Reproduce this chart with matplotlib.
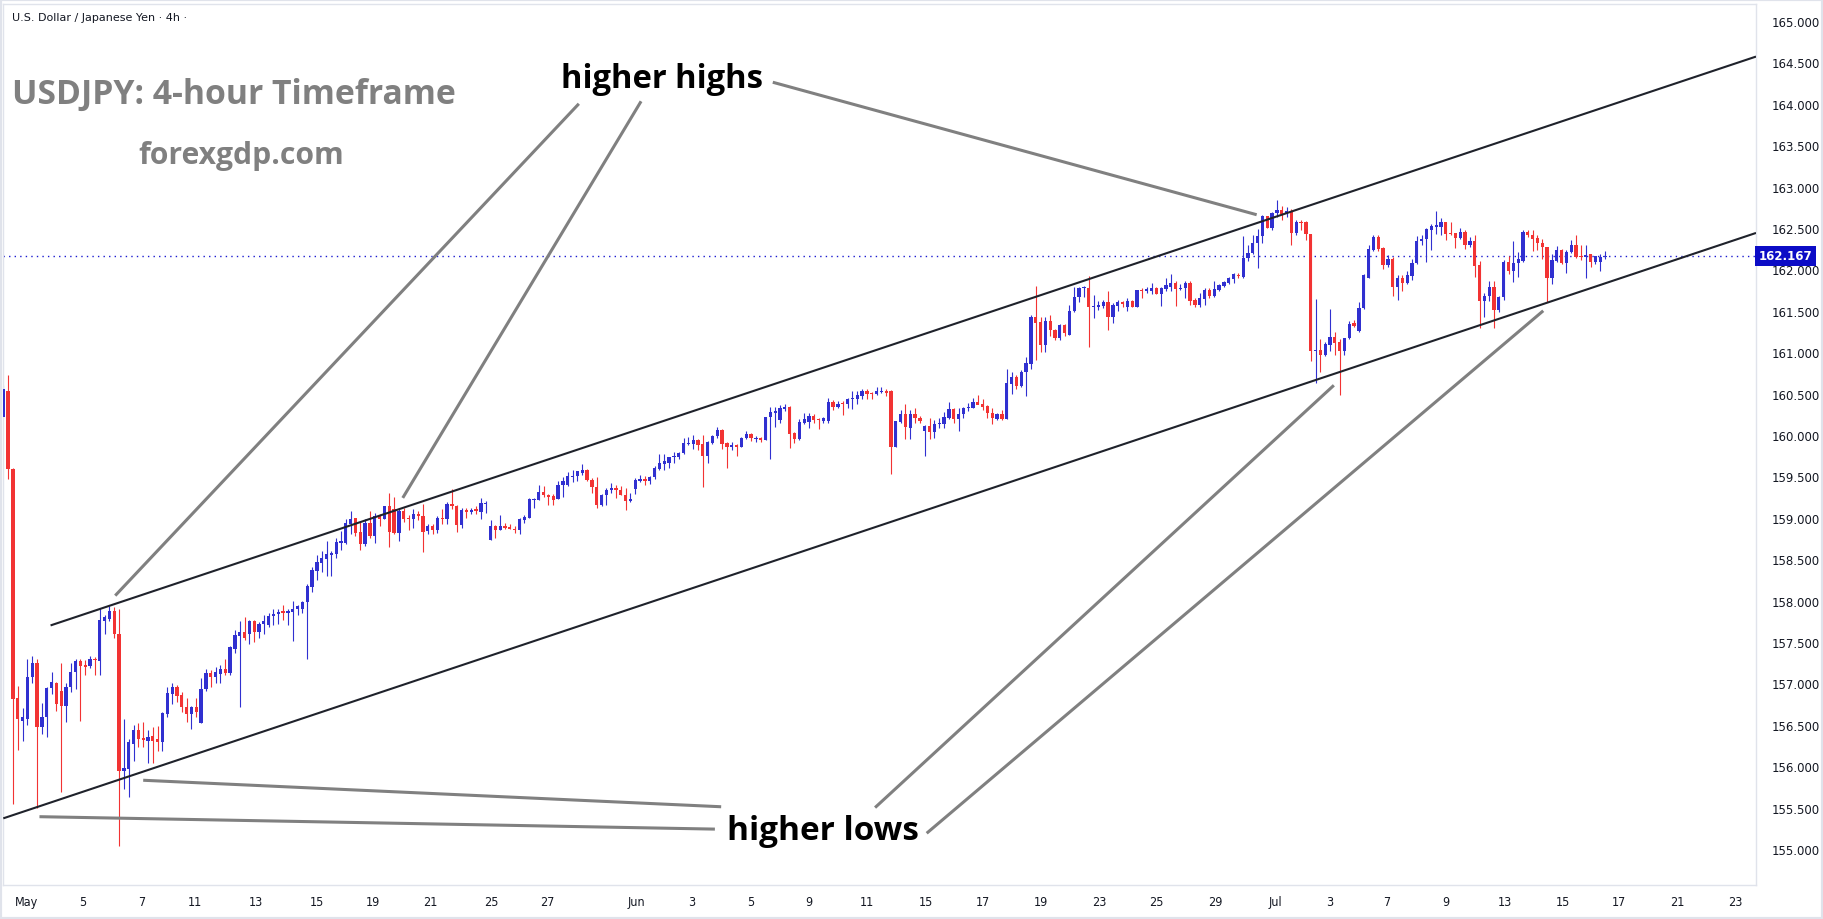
import numpy as np
import matplotlib
matplotlib.use("Agg")
import matplotlib.pyplot as plt
from matplotlib.transforms import blended_transform_factory
from matplotlib.patches import Rectangle

# 4h candles, USDJPY, one row = one trading day (6 candles)
opens = [
    160.22, 160.53, 159.59, 156.82, 156.55, 156.57,
    157.08, 157.25, 156.47, 156.60, 156.94, 157.00,
    156.91, 156.73, 156.96, 157.14, 157.27, 157.22,
    157.21, 157.30, 157.27, 157.75, 157.78, 157.87,
    157.60, 155.94, 155.97, 156.27, 156.44, 156.34,
    156.30, 156.36, 156.33, 156.29, 156.63, 156.87,
    156.96, 156.86, 156.71, 156.63, 156.72, 156.52,
    156.93, 157.13, 157.08, 157.11, 157.17, 157.13,
    157.42, 157.57, 157.62, 157.60, 157.75, 157.62,
    157.72, 157.70, 157.81, 157.84, 157.87, 157.85,
    157.86, 157.90, 157.90, 157.98, 158.16, 158.36,
    158.45, 158.50, 158.55, 158.56, 158.70, 158.70,
    158.93, 159.00, 158.83, 158.68, 158.94, 158.78,
    159.02, 158.99, 159.14, 159.10, 158.82, 159.08,
    158.99, 158.98, 159.05, 159.02, 158.84, 158.90,
    158.85, 159.00, 158.99, 159.17, 159.14, 158.91,
    159.09, 159.07, 159.10, 159.07, 159.17, 158.73,
    158.90, 158.85, 158.90, 158.89, 158.87, 158.85,
    158.97, 159.00, 159.22, 159.21, 159.31, 159.27,
    159.26, 159.23, 159.39, 159.40, 159.49, 159.51,
    159.54, 159.58, 159.46, 159.37, 159.15, 159.28,
    159.33, 159.36, 159.33, 159.28, 159.20, 159.35,
    159.45, 159.47, 159.44, 159.49, 159.59, 159.65,
    159.66, 159.73, 159.73, 159.78, 159.89, 159.89,
    159.94, 159.89, 159.75, 159.90, 159.99, 160.06,
    159.90, 159.86, 159.88, 159.86, 159.96, 160.01,
    159.95, 159.96, 159.94, 160.22, 160.27, 160.18,
    160.31, 160.34, 160.02, 159.95, 160.15, 160.16,
    160.23, 160.19, 160.17, 160.17, 160.40, 160.34,
    160.39, 160.37, 160.43, 160.43, 160.47, 160.53,
    160.51, 160.50, 160.52, 160.53, 160.53, 159.86,
    160.16, 160.25, 160.08, 160.25, 160.21, 160.05,
    160.11, 160.04, 160.13, 160.13, 160.20, 160.31,
    160.19, 160.25, 160.33, 160.33, 160.40, 160.37,
    160.35, 160.27, 160.19, 160.25, 160.19, 160.62,
    160.70, 160.59, 160.76, 160.86, 161.43, 161.36,
    161.09, 161.38, 161.27, 161.17, 161.33, 161.21,
    161.50, 161.67, 161.77, 161.78, 161.55, 161.55,
    161.56, 161.60, 161.43, 161.56, 161.60, 161.55,
    161.62, 161.55, 161.75, 161.74, 161.74, 161.78,
    161.70, 161.76, 161.79, 161.84, 161.76, 161.77,
    161.84, 161.63, 161.57, 161.64, 161.75, 161.68,
    161.75, 161.80, 161.84, 161.88, 161.93, 161.91,
    162.14, 162.20, 162.32, 162.40, 162.64, 162.50,
    162.68, 162.72, 162.67, 162.70, 162.44, 162.57,
    162.57, 162.43, 161.01, 161.03, 160.97, 161.09,
    161.18, 161.12, 161.01, 161.17, 161.35, 161.25,
    161.53, 161.90, 162.23, 162.39, 162.26, 162.05,
    162.12, 161.79, 161.90, 161.84, 161.92, 162.08,
    162.34, 162.37, 162.48, 162.51, 162.51, 162.57,
    162.44, 162.44, 162.38, 162.45, 162.30, 162.34,
    162.05, 161.62, 161.68, 161.79, 161.51, 161.67,
    162.09, 161.98, 162.08, 162.10, 162.45, 162.42,
    162.38, 162.32, 162.27, 161.90, 162.10, 162.23,
    162.08, 162.21, 162.30, 162.16, 162.15, 162.18,
    162.09, 162.09, 162.15,
]
highs = [
    160.60, 160.72, 159.60, 156.97, 156.70, 157.30,
    157.33, 157.30, 156.76, 156.96, 157.14, 157.02,
    157.25, 157.00, 157.25, 157.30, 157.30, 157.28,
    157.33, 157.32, 157.91, 157.83, 157.93, 157.92,
    157.90, 156.57, 156.33, 156.50, 156.52, 156.53,
    156.44, 156.47, 156.48, 156.66, 156.96, 157.00,
    156.98, 156.90, 156.82, 156.73, 156.82, 157.06,
    157.17, 157.16, 157.20, 157.22, 157.29, 157.45,
    157.65, 157.75, 157.80, 157.76, 157.77, 157.74,
    157.82, 157.85, 157.90, 157.90, 157.95, 157.90,
    158.00, 157.95, 158.00, 158.20, 158.40, 158.55,
    158.60, 158.72, 158.60, 158.75, 158.84, 158.98,
    159.08, 159.00, 158.95, 158.98, 159.08, 159.06,
    159.05, 159.14, 159.30, 159.25, 159.10, 159.12,
    159.03, 159.10, 159.08, 159.17, 158.93, 158.92,
    159.02, 159.10, 159.19, 159.35, 159.16, 159.12,
    159.12, 159.12, 159.14, 159.24, 159.20, 158.97,
    158.91, 159.03, 158.94, 158.92, 158.90, 159.00,
    159.03, 159.24, 159.24, 159.40, 159.38, 159.29,
    159.29, 159.45, 159.49, 159.55, 159.58, 159.57,
    159.65, 159.59, 159.48, 159.49, 159.29, 159.36,
    159.42, 159.40, 159.38, 159.36, 159.30, 159.48,
    159.52, 159.51, 159.50, 159.63, 159.77, 159.77,
    159.74, 159.80, 159.79, 159.96, 159.98, 160.00,
    159.95, 160.00, 159.93, 160.00, 160.10, 160.07,
    159.91, 159.92, 159.89, 159.97, 160.05, 160.02,
    159.99, 159.97, 160.22, 160.34, 160.34, 160.36,
    160.38, 160.35, 160.03, 160.19, 160.26, 160.27,
    160.25, 160.20, 160.22, 160.45, 160.42, 160.41,
    160.41, 160.45, 160.53, 160.53, 160.56, 160.55,
    160.52, 160.58, 160.58, 160.55, 160.54, 160.17,
    160.30, 160.37, 160.30, 160.32, 160.23, 160.12,
    160.20, 160.18, 160.20, 160.28, 160.40, 160.33,
    160.33, 160.34, 160.39, 160.45, 160.48, 160.44,
    160.36, 160.33, 160.27, 160.30, 160.80, 160.76,
    160.72, 160.78, 160.94, 161.45, 161.80, 161.42,
    161.42, 161.45, 161.28, 161.34, 161.34, 161.57,
    161.79, 161.79, 161.80, 161.92, 161.69, 161.62,
    161.63, 161.74, 161.59, 161.63, 161.62, 161.65,
    161.63, 161.75, 161.77, 161.79, 161.83, 161.79,
    161.79, 161.90, 161.94, 161.86, 161.82, 161.86,
    161.86, 161.65, 161.71, 161.77, 161.78, 161.86,
    161.82, 161.86, 161.91, 161.96, 161.96, 162.40,
    162.30, 162.42, 162.49, 162.66, 162.65, 162.69,
    162.84, 162.76, 162.75, 162.73, 162.60, 162.60,
    162.58, 162.43, 161.64, 161.16, 161.12, 161.52,
    161.24, 161.16, 161.17, 161.38, 161.39, 161.60,
    161.94, 162.30, 162.42, 162.42, 162.27, 162.17,
    162.15, 161.93, 161.93, 161.98, 162.13, 162.40,
    162.42, 162.50, 162.55, 162.71, 162.62, 162.57,
    162.57, 162.44, 162.50, 162.47, 162.39, 162.42,
    162.10, 161.72, 161.86, 161.86, 161.68, 162.11,
    162.16, 162.34, 162.21, 162.47, 162.47, 162.47,
    162.42, 162.37, 162.27, 162.19, 162.28, 162.25,
    162.24, 162.35, 162.42, 162.30, 162.30, 162.18,
    162.16, 162.18, 162.22,
]
lows = [
    160.20, 159.47, 155.54, 156.20, 156.30, 156.50,
    157.00, 155.50, 156.39, 156.35, 156.87, 156.67,
    155.69, 156.53, 156.90, 156.93, 156.55, 157.10,
    157.18, 157.10, 157.10, 157.60, 157.75, 157.55,
    155.04, 155.72, 155.63, 156.06, 156.23, 156.23,
    156.04, 156.04, 156.18, 156.18, 156.60, 156.75,
    156.78, 156.65, 156.53, 156.45, 156.60, 156.52,
    156.91, 156.96, 157.00, 157.00, 157.10, 157.10,
    157.37, 156.71, 157.52, 157.47, 157.50, 157.55,
    157.60, 157.68, 157.70, 157.72, 157.77, 157.70,
    157.51, 157.82, 157.85, 157.30, 158.10, 158.25,
    158.35, 158.30, 158.30, 158.52, 158.61, 158.68,
    158.80, 158.78, 158.61, 158.66, 158.76, 158.70,
    158.90, 158.99, 158.65, 158.80, 158.72, 158.95,
    158.85, 158.88, 158.97, 158.59, 158.80, 158.80,
    158.82, 158.93, 158.93, 159.10, 158.83, 158.88,
    159.00, 159.04, 159.05, 158.99, 159.06, 158.73,
    158.76, 158.85, 158.86, 158.86, 158.82, 158.80,
    158.94, 159.00, 159.12, 159.21, 159.25, 159.15,
    159.16, 159.23, 159.25, 159.38, 159.43, 159.45,
    159.52, 159.45, 159.30, 159.12, 159.14, 159.15,
    159.30, 159.24, 159.27, 159.09, 159.19, 159.29,
    159.43, 159.40, 159.41, 159.47, 159.58, 159.58,
    159.60, 159.66, 159.71, 159.77, 159.88, 159.83,
    159.82, 159.37, 159.66, 159.89, 159.96, 159.83,
    159.60, 159.82, 159.75, 159.85, 159.95, 159.93,
    159.91, 159.92, 159.94, 159.71, 160.10, 160.14,
    160.29, 159.84, 159.90, 159.94, 160.13, 160.08,
    160.15, 160.07, 160.15, 160.15, 160.30, 160.32,
    160.24, 160.33, 160.31, 160.38, 160.44, 160.43,
    160.43, 160.48, 160.51, 160.47, 159.53, 159.86,
    160.15, 159.95, 159.95, 160.15, 160.15, 159.75,
    159.95, 159.96, 160.08, 160.08, 160.19, 160.15,
    160.05, 160.20, 160.29, 160.32, 160.37, 160.30,
    160.20, 160.13, 160.18, 160.18, 160.19, 160.50,
    160.56, 160.58, 160.47, 160.80, 160.90, 161.00,
    161.00, 161.20, 161.15, 161.15, 161.20, 161.21,
    161.49, 161.60, 161.67, 161.06, 161.41, 161.51,
    161.53, 161.27, 161.35, 161.50, 161.55, 161.50,
    161.55, 161.55, 161.65, 161.71, 161.70, 161.70,
    161.56, 161.74, 161.74, 161.56, 161.75, 161.65,
    161.57, 161.55, 161.55, 161.57, 161.66, 161.67,
    161.74, 161.79, 161.82, 161.84, 161.89, 161.89,
    162.10, 162.18, 162.02, 162.32, 162.50, 162.48,
    162.63, 162.60, 162.63, 162.30, 162.42, 162.48,
    162.35, 160.89, 160.63, 160.76, 160.95, 161.01,
    160.96, 160.48, 160.97, 161.16, 161.30, 161.24,
    161.52, 161.89, 162.22, 162.22, 162.00, 162.03,
    161.68, 161.63, 161.74, 161.82, 161.87, 162.07,
    162.30, 162.09, 162.24, 162.43, 162.42, 162.36,
    162.41, 162.26, 162.37, 162.25, 162.27, 161.91,
    161.29, 161.43, 161.62, 161.29, 161.49, 161.63,
    161.95, 161.85, 161.91, 162.09, 162.39, 162.22,
    162.24, 162.12, 161.60, 161.82, 162.09, 162.06,
    161.96, 162.20, 162.14, 162.11, 161.90, 162.03,
    162.07, 161.98, 162.12,
]
closes = [
    160.55, 159.59, 156.81, 156.57, 156.60, 157.08,
    157.25, 156.47, 156.60, 156.94, 157.02, 156.75,
    156.73, 156.96, 157.14, 157.27, 157.21, 157.20,
    157.30, 157.28, 157.77, 157.80, 157.87, 157.60,
    155.94, 155.98, 156.29, 156.44, 156.33, 156.32,
    156.35, 156.31, 156.29, 156.64, 156.88, 156.96,
    156.85, 156.71, 156.63, 156.71, 156.66, 156.93,
    157.13, 157.08, 157.14, 157.17, 157.12, 157.44,
    157.58, 157.62, 157.55, 157.75, 157.62, 157.72,
    157.75, 157.81, 157.84, 157.86, 157.85, 157.87,
    157.90, 157.93, 157.98, 158.18, 158.37, 158.47,
    158.51, 158.56, 158.58, 158.71, 158.72, 158.94,
    158.99, 158.82, 158.68, 158.94, 158.78, 159.02,
    158.99, 159.14, 158.83, 158.82, 159.08, 158.99,
    158.98, 159.05, 159.02, 158.83, 158.90, 158.85,
    159.00, 158.99, 159.17, 159.14, 158.91, 159.09,
    159.07, 159.09, 159.08, 159.18, 159.18, 158.90,
    158.85, 158.90, 158.88, 158.87, 158.85, 158.98,
    159.01, 159.23, 159.23, 159.31, 159.27, 159.25,
    159.22, 159.40, 159.44, 159.50, 159.51, 159.57,
    159.58, 159.46, 159.37, 159.15, 159.28, 159.34,
    159.36, 159.33, 159.28, 159.20, 159.23, 159.46,
    159.47, 159.44, 159.49, 159.60, 159.66, 159.68,
    159.73, 159.75, 159.78, 159.90, 159.90, 159.94,
    159.88, 159.75, 159.92, 159.99, 160.06, 159.89,
    159.86, 159.88, 159.86, 159.96, 160.01, 159.96,
    159.96, 159.94, 160.22, 160.28, 160.29, 160.33,
    160.34, 160.01, 159.95, 160.16, 160.19, 160.23,
    160.18, 160.18, 160.21, 160.40, 160.34, 160.38,
    160.38, 160.43, 160.45, 160.48, 160.53, 160.50,
    160.49, 160.53, 160.53, 160.51, 159.86, 160.17,
    160.25, 160.10, 160.25, 160.21, 160.17, 160.11,
    160.04, 160.13, 160.15, 160.22, 160.31, 160.19,
    160.25, 160.33, 160.34, 160.40, 160.36, 160.34,
    160.26, 160.20, 160.25, 160.19, 160.63, 160.70,
    160.59, 160.76, 160.87, 161.42, 161.35, 161.09,
    161.38, 161.27, 161.17, 161.33, 161.23, 161.50,
    161.67, 161.78, 161.78, 161.55, 161.56, 161.57,
    161.60, 161.43, 161.57, 161.60, 161.58, 161.62,
    161.55, 161.75, 161.74, 161.76, 161.78, 161.70,
    161.77, 161.81, 161.84, 161.76, 161.78, 161.84,
    161.62, 161.57, 161.65, 161.75, 161.68, 161.76,
    161.81, 161.85, 161.90, 161.94, 161.92, 162.14,
    162.20, 162.32, 162.40, 162.64, 162.50, 162.68,
    162.72, 162.67, 162.70, 162.44, 162.57, 162.56,
    162.43, 161.01, 161.03, 160.97, 161.10, 161.18,
    161.11, 161.01, 161.17, 161.34, 161.32, 161.53,
    161.93, 162.25, 162.39, 162.25, 162.05, 162.12,
    161.79, 161.90, 161.84, 161.93, 162.08, 162.34,
    162.37, 162.49, 162.52, 162.54, 162.57, 162.43,
    162.43, 162.38, 162.45, 162.30, 162.34, 162.04,
    161.62, 161.68, 161.79, 161.51, 161.67, 162.09,
    161.98, 162.08, 162.12, 162.45, 162.42, 162.37,
    162.32, 162.27, 161.90, 162.11, 162.23, 162.08,
    162.21, 162.30, 162.15, 162.15, 162.17, 162.09,
    162.16, 162.15, 162.167,
]

# date labels on the time axis (candle index where TradingView puts them)
date_labels = ["May", "5", "7", "11", "13", "15", "19", "21", "25", "27",
               "Jun", "3", "5", "9", "11", "15", "17", "19", "23", "25", "29",
               "Jul", "3", "7", "9", "13", "15", "17", "21", "23"]
date_pos = [4.9, 16.5, 28.7, 39.8, 52.4, 65.0, 76.6, 88.6, 101.1, 112.7,
            131.3, 142.6, 154.9, 166.9, 179.0, 191.2, 203.0, 215.0, 227.1, 238.9, 251.3,
            263.6, 275.0, 286.8, 299.0, 311.2, 323.3, 334.9, 347.0, 359.0]

price_ticks = np.arange(155.0, 165.01, 0.5)

# channel lines (candle index, price)
upper_channel = [(9.8, 157.70), (363.3, 164.57)]
lower_channel = [(0.0, 155.37), (363.3, 162.44)]

# grey pointer lines
high_pointers = [
    [(23.2, 158.06), (119.3, 164.00)],
    [(82.8, 159.24), (132.2, 164.03)],
    [(159.5, 164.26), (259.8, 162.66)],
]
low_pointers = [
    [(7.5, 155.39), (147.5, 155.24)],
    [(29.0, 155.83), (148.8, 155.51)],
    [(180.7, 155.50), (275.8, 160.60)],
    [(191.4, 155.19), (319.2, 161.50)],
]

W, H = 1823, 920
UP = "#3030d0"
DOWN = "#f23333"
TXT = "#131722"
FRAME = "#e0e3eb"

fig = plt.figure(figsize=(W / 100, H / 100), dpi=100)
fig.patch.set_facecolor("white")

left, right, top, bottom = 3, 1756, 5, 886
ax = fig.add_axes([left / W, 1 - bottom / H, (right - left) / W, (bottom - top) / H])

o = np.array(opens)
h = np.array(highs)
l = np.array(lows)
c = np.array(closes)
x = np.arange(len(c))
up = c >= o
cols = np.where(up, UP, DOWN)

ax.vlines(x, l, h, colors=cols, linewidth=0.8, zorder=2)
body_lo = np.minimum(o, c)
body_h = np.maximum(np.abs(c - o), 0.012)
ax.bar(x, body_h, bottom=body_lo, width=0.68, color=cols, linewidth=0, zorder=3)

# last price dotted line
ax.axhline(c[-1], color="#1a1ad0", linewidth=1, linestyle=(0, (1, 3)), zorder=1)

# channel
for line in (upper_channel, lower_channel):
    xs, ys = zip(*line)
    ax.plot(xs, ys, color="#1f222b", linewidth=1.5, zorder=4, solid_capstyle="butt")

for line in high_pointers + low_pointers:
    xs, ys = zip(*line)
    ax.plot(xs, ys, color="#808080", linewidth=2.2, zorder=4, solid_capstyle="butt")

ax.set_xlim(-0.06, 363.3)
ax.set_ylim(154.565, 165.205)

ax.yaxis.tick_right()
ax.set_yticks(price_ticks)
ax.set_yticklabels([f"{v:.3f}" for v in price_ticks], fontsize=8.5, color=TXT)
ax.tick_params(axis="y", length=0, pad=11)
ax.set_xticks(date_pos)
ax.set_xticklabels(date_labels, fontsize=9, color=TXT, fontstretch="condensed")
ax.tick_params(axis="x", length=0, pad=7)
for s in ax.spines.values():
    s.set_color(FRAME)
    s.set_linewidth(1)

# price tag
tr = blended_transform_factory(ax.transAxes, ax.transData)
ax.text(1.0015, c[-1], f"{c[-1]:.3f}", transform=tr, ha="left", va="center",
        fontsize=8.5, color="white", fontweight="bold",
        bbox=dict(boxstyle="square,pad=0.3", fc="#0c0cc6", ec="none"), clip_on=False, zorder=6)

# texts
def fx(px):
    return px / W

def fy(py):
    return 1 - py / H

fig.text(fx(12), fy(18), "U.S. Dollar / Japanese Yen \u00b7 4h \u00b7", fontsize=8.0, color=TXT,
         va="center", ha="left")
fig.text(fx(12), fy(95), "USDJPY: 4-hour Timeframe", fontsize=24.3, fontweight="bold",
         color="#808080", va="center", ha="left", family="Open Sans")
fig.text(fx(138), fy(156), "forexgdp.com", fontsize=21.7, fontweight="bold",
         color="#808080", va="center", ha="left", family="Open Sans")
fig.text(fx(561), fy(79), "higher highs", fontsize=23.6, fontweight="bold",
         color="black", va="center", ha="left", family="Open Sans")
fig.text(fx(727), fy(832), "higher lows", fontsize=24.0, fontweight="bold",
         color="black", va="center", ha="left", family="Open Sans")

fig.patches.append(Rectangle((0, 0), 1, 1, transform=fig.transFigure, fill=False,
                             edgecolor=FRAME, linewidth=3))

fig.savefig("out.png", dpi=100)
